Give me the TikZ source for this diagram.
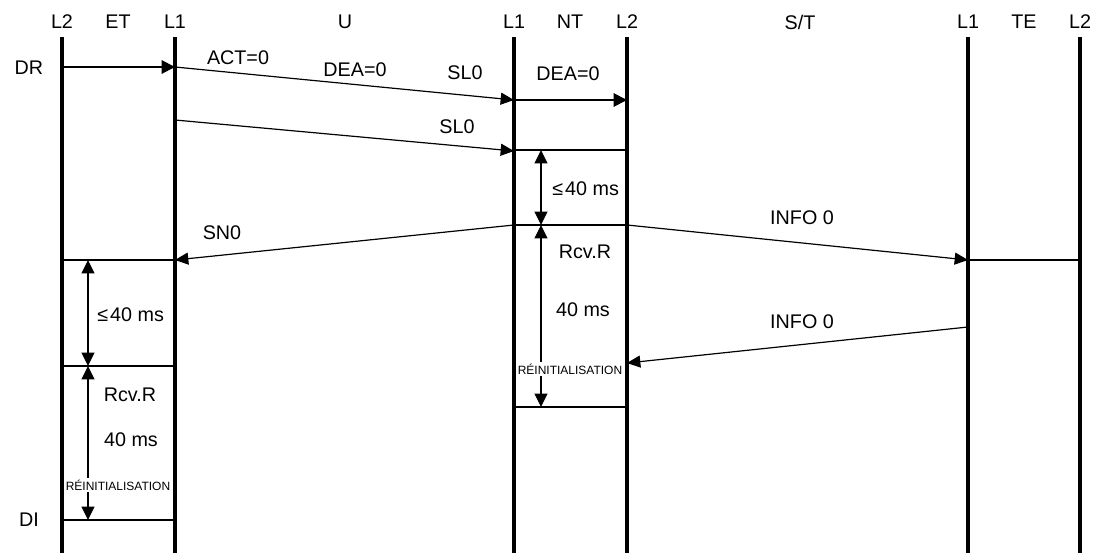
\documentclass[tikz,border=0pt]{standalone}
\usepackage{fontspec}
\setmainfont{Liberation Sans}
\usetikzlibrary{arrows.meta}
\tikzset{
  lifeline/.style={line width=3pt},
  msg/.style={line width=0.9pt,-{Triangle[length=10pt,width=9pt]}},
  hmsg/.style={line width=1.5pt,-{Triangle[length=10pt,width=10pt]}},
  tick/.style={line width=1.5pt},
  span/.style={line width=1.2pt,{Triangle[length=10pt,width=9.5pt]}-{Triangle[length=10pt,width=9.5pt]}},
  lbl/.style={inner sep=0pt,font=\fontsize{14.8}{17}\selectfont},
  small/.style={inner sep=1.5pt,fill=white,font=\fontsize{9}{10}\selectfont}
}
\newcommand{\lesseq}{\kern1pt≤\kern1.5pt}
\begin{document}
\begin{tikzpicture}[x=0.75pt, y=-0.75pt]
   \useasboundingbox (0,0) rectangle (1100,553);
   % lifelines
   \foreach \x/\n in {62/etb,175/eta,514/nta,627/ntb,968/tea,1080/teb} {
      \coordinate (\n top) at (\x,37);
      \coordinate (\n bot) at (\x,553);
      \draw[lifeline] (\n top) -- (\n bot);
   }
   % headings
   \foreach \x/\t/\n in {62/L2/h1,118/ET/h2,175/L1/h3,345/U/h4,514/L1/h5,570/NT/h6,
                         627/L2/h7,800/S\slash T/h8,968/L1/h9,1024/TE/h10,1080/L2/h11}
      \node[lbl] (\n) at (\x,22) {\t};
   \node[lbl] (dr) at (29,68) {DR};
   \node[lbl] (di) at (29,520) {DI};
   % points on the lifelines
   \coordinate (p1) at (62,67);   \coordinate (p2) at (175,67);
   \coordinate (p3) at (514,100); \coordinate (p4) at (627,100);
   \coordinate (p5) at (175,120); \coordinate (p6) at (514,151);
   \coordinate (q1) at (514,150); \coordinate (q2) at (627,150);
   \coordinate (q3) at (514,225); \coordinate (q4) at (627,225);
   \coordinate (q5) at (514,407); \coordinate (q6) at (627,407);
   \coordinate (r1) at (62,260);  \coordinate (r2) at (175,260);
   \coordinate (r3) at (62,366);  \coordinate (r4) at (175,366);
   \coordinate (r5) at (62,520);  \coordinate (r6) at (175,520);
   \coordinate (s1) at (968,260); \coordinate (s2) at (1080,260);
   \coordinate (s3) at (968,327); \coordinate (s4) at (627,363);
   % messages
   \draw[hmsg] (p1) -- (p2);
   \draw[msg]  (p2) -- (p3);
   \draw[hmsg] (p3) -- (p4);
   \draw[msg]  (p5) -- (p6);
   \draw[msg]  (q3) -- (r2);
   \draw[msg]  (q4) -- (s1);
   \draw[msg]  (s3) -- (s4);
   \node[lbl] (act) at (238,58)  {ACT=0};
   \node[lbl] (dea1) at (355,70) {DEA=0};
   \node[lbl] (sl1) at (465,73)  {SL0};
   \node[lbl] (dea2) at (568,74) {DEA=0};
   \node[lbl] (sl2) at (457,127) {SL0};
   \node[lbl] (sn) at (222,233)  {SN0};
   \node[lbl] (info1) at (802,218) {INFO 0};
   \node[lbl] (info2) at (802,322) {INFO 0};
   % state changes
   \foreach \a/\b in {q1/q2,q3/q4,q5/q6,r1/r2,r3/r4,r5/r6,s1/s2}
      \draw[tick] (\a) -- (\b);
   % timers in NT
   \coordinate (t1) at (541,150); \coordinate (t2) at (541,225);
   \coordinate (t3) at (541,407);
   \draw[span] (t1) -- (t2);
   \draw[span] (t2) -- (t3);
   \node[lbl] (le1) at (585,189) {\lesseq40 ms};
   \node[lbl] (rcv1) at (585,252) {Rcv.R};
   \node[lbl] (ms1) at (583,310) {40 ms};
   \node[small] (re1) at (570,369) {RÉINITIALISATION};
   % timers in ET
   \coordinate (u1) at (88,260); \coordinate (u2) at (88,366);
   \coordinate (u3) at (88,520);
   \draw[span] (u1) -- (u2);
   \draw[span] (u2) -- (u3);
   \node[lbl] (le2) at (130,315) {\lesseq40 ms};
   \node[lbl] (rcv2) at (130,395) {Rcv.R};
   \node[lbl] (ms2) at (131,440) {40 ms};
   \node[small] (re2) at (118,485) {RÉINITIALISATION};
\end{tikzpicture}
\end{document}
